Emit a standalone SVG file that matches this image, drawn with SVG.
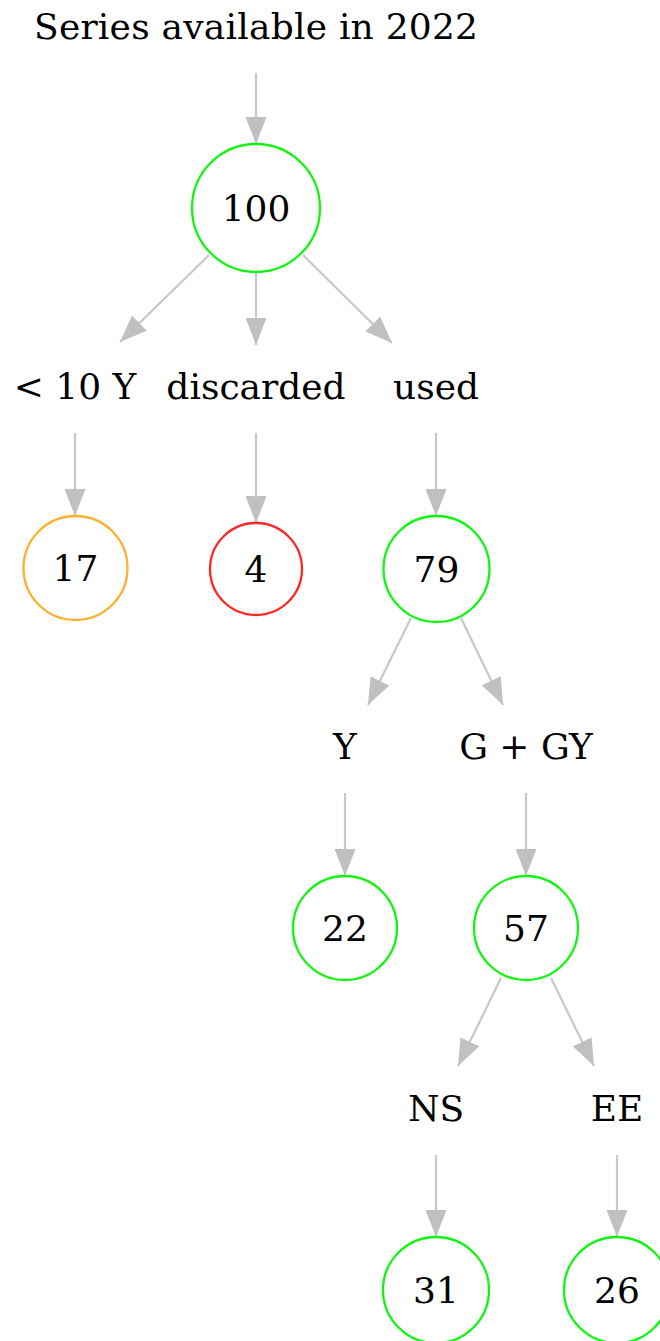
<svg xmlns="http://www.w3.org/2000/svg" width="660" height="1341" viewBox="0 0 660 1341">
<style>
.t{font-family:"DejaVu Serif",serif;font-size:36px;fill:#000;text-anchor:middle}
.c{fill:#fff;stroke-width:2.3}
.g{stroke:#11f511}
.o{stroke:#ffae2e}
.r{stroke:#ff2626}
.e{stroke:#c8c8c8;stroke-width:2.2;fill:none;marker-end:url(#ah)}
</style>
<defs>
<marker id="ah" viewBox="0 0 27 21" refX="27" refY="10.5" markerWidth="27" markerHeight="21" markerUnits="userSpaceOnUse" orient="auto">
<path d="M0,0 L27,10.5 L0,21 z" fill="#c0c0c0"/>
</marker>
</defs>
<rect width="660" height="1341" fill="#fff"/>
<g id="edges">
<line class="e" x1="256" y1="73" x2="256" y2="144"/>
<line class="e" x1="209" y1="255" x2="120" y2="342"/>
<line class="e" x1="256" y1="272" x2="256" y2="345"/>
<line class="e" x1="303" y1="255" x2="392" y2="343"/>
<line class="e" x1="75" y1="433" x2="75" y2="516"/>
<line class="e" x1="256" y1="433" x2="256" y2="523"/>
<line class="e" x1="436" y1="433" x2="436" y2="516"/>
<line class="e" x1="411" y1="618" x2="368" y2="705"/>
<line class="e" x1="461" y1="618" x2="503" y2="705"/>
<line class="e" x1="345" y1="793" x2="345" y2="876"/>
<line class="e" x1="526" y1="793" x2="526" y2="876"/>
<line class="e" x1="501" y1="978" x2="458" y2="1066"/>
<line class="e" x1="551" y1="978" x2="594" y2="1066"/>
<line class="e" x1="436" y1="1155" x2="436" y2="1237"/>
<line class="e" x1="617" y1="1155" x2="617" y2="1237"/>
</g>
<g id="title"><text class="t" x="256" y="39" textLength="444" lengthAdjust="spacing">Series available in 2022</text></g>
<g id="n100"><circle class="c g" cx="256" cy="208" r="64"/><text class="t" x="256" y="221">100</text></g>
<g id="lt10"><text class="t" x="75" y="399">&lt; 10 Y</text></g>
<g id="ldisc"><text class="t" x="256" y="399">discarded</text></g>
<g id="lused"><text class="t" x="436" y="399">used</text></g>
<g id="n17"><circle class="c o" cx="75.5" cy="568" r="52"/><text class="t" x="75.5" y="581">17</text></g>
<g id="n4"><circle class="c r" cx="256" cy="569" r="46"/><text class="t" x="256" y="582">4</text></g>
<g id="n79"><circle class="c g" cx="436.5" cy="569" r="53"/><text class="t" x="436.5" y="582">79</text></g>
<g id="lY"><text class="t" x="345" y="759">Y</text></g>
<g id="lGGY"><text class="t" x="526" y="759">G + GY</text></g>
<g id="n22"><circle class="c g" cx="345" cy="928" r="52"/><text class="t" x="345" y="941">22</text></g>
<g id="n57"><circle class="c g" cx="526" cy="928" r="52"/><text class="t" x="526" y="941">57</text></g>
<g id="lNS"><text class="t" x="436" y="1121">NS</text></g>
<g id="lEE"><text class="t" x="617" y="1121">EE</text></g>
<g id="n31"><circle class="c g" cx="436" cy="1290" r="53"/><text class="t" x="436" y="1303">31</text></g>
<g id="n26"><circle class="c g" cx="617" cy="1290" r="53"/><text class="t" x="617" y="1303">26</text></g>
</svg>
